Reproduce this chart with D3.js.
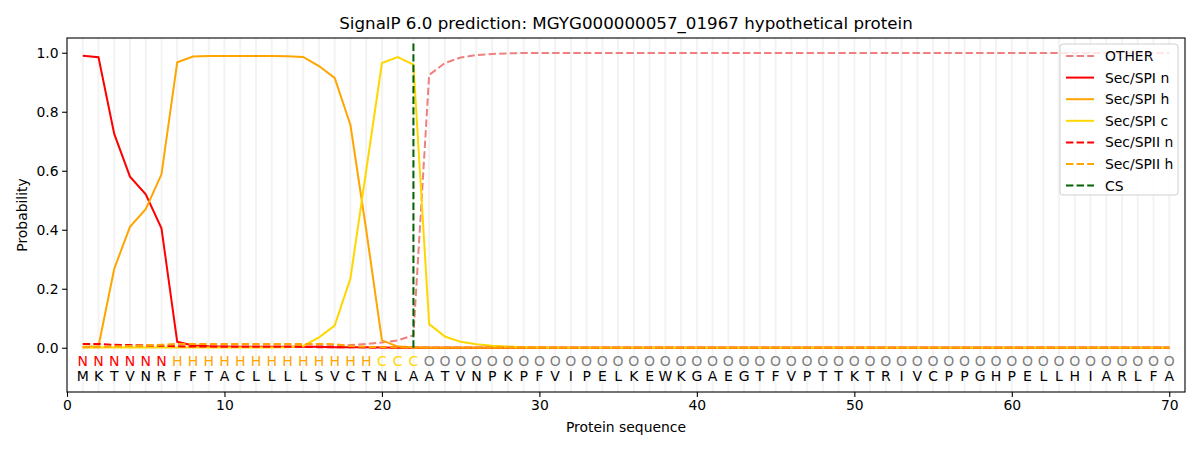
<!DOCTYPE html>
<html>
<head>
<meta charset="utf-8">
<script src="https://cdn.jsdelivr.net/npm/d3@7"></script>
<style>
  body { margin: 0; background: #fff; }
  svg { font-family: "DejaVu Sans", sans-serif; }
</style>
</head>
<body>
<div class="canvas"></div>
<script>
// Data
const sequence = 'MKTVNRFFTACLLLLSVCTNLAATVNPKPFVIPELKEWKGAEGTFVPTTKTRIVCPPGHPELLHIARLFA'.split('');
const regions = 'NNNNNNHHHHHHHHHHHHHCCCOOOOOOOOOOOOOOOOOOOOOOOOOOOOOOOOOOOOOOOOOOOOOOOO'.split('');

const other = [0.002,0.002,0.003,0.003,0.003,0.003,0.003,0.003,0.003,0.003,
    0.003,0.003,0.003,0.003,0.004,0.005,0.006,0.009,0.013,0.018,
    0.025,0.042,0.925,0.965,0.984,0.992,0.996,0.998,0.999,0.999,
    0.999,0.999,0.999,0.999,0.999,0.999,0.999,0.999,0.999,0.999,
    0.999,0.999,0.999,0.999,0.999,0.999,0.999,0.999,0.999,0.999,
    0.999,0.999,0.999,0.999,0.999,0.999,0.999,0.999,0.999,0.999,
    0.999,0.999,0.999,0.999,0.999,0.999,0.999,0.999,0.999,0.999];
const spiN = [0.99,0.985,0.725,0.58,0.52,0.405,0.02,0.008,0.005,0.004,
    0.003,0.003,0.003,0.003,0.003,0.003,0.002,0.002,0.002,0.001,
    0,0,0,0,0,0,0,0,0,0, 0,0,0,0,0,0,0,0,0,0,
    0,0,0,0,0,0,0,0,0,0, 0,0,0,0,0,0,0,0,0,0,
    0,0,0,0,0,0,0,0,0,0];
const spiH = [0.003,0.005,0.268,0.41,0.47,0.588,0.968,0.987,0.989,0.989,
    0.989,0.989,0.989,0.988,0.986,0.955,0.915,0.755,0.40,0.025,
    0.004,0.002,0,0,0,0,0,0,0,0, 0,0,0,0,0,0,0,0,0,0,
    0,0,0,0,0,0,0,0,0,0, 0,0,0,0,0,0,0,0,0,0,
    0,0,0,0,0,0,0,0,0,0];
const spiC = [0.001,0.001,0.001,0.001,0.001,0.001,0.001,0.001,0.001,0.001,
    0.001,0.001,0.001,0.002,0.006,0.035,0.075,0.235,0.60,0.965,
    0.985,0.96,0.08,0.038,0.02,0.012,0.007,0.004,0.002,0.001,
    0,0,0,0,0,0,0,0,0,0, 0,0,0,0,0,0,0,0,0,0,
    0,0,0,0,0,0,0,0,0,0, 0,0,0,0,0,0,0,0,0,0];
const spiiN = [0.013,0.013,0.01,0.009,0.008,0.007,0.005,0.004,0.004,0.003,
    0.003,0.003,0.003,0.003,0.003,0.002,0.002,0.002,0.001,0.001,
    0,0,0,0,0,0,0,0,0,0, 0,0,0,0,0,0,0,0,0,0,
    0,0,0,0,0,0,0,0,0,0, 0,0,0,0,0,0,0,0,0,0,
    0,0,0,0,0,0,0,0,0,0];
const spiiH = [0.002,0.003,0.005,0.006,0.008,0.01,0.013,0.013,0.013,0.013,
    0.013,0.013,0.013,0.013,0.013,0.013,0.012,0.006,0.003,0.002,
    0.001,0,0,0,0,0,0,0,0,0, 0,0,0,0,0,0,0,0,0,0,
    0,0,0,0,0,0,0,0,0,0, 0,0,0,0,0,0,0,0,0,0,
    0,0,0,0,0,0,0,0,0,0];
const csPos = 22;

const xTicks = [0,10,20,30,40,50,60,70];
const yTicks = [0,0.2,0.4,0.6,0.8,1.0];

const series = [
    {name:'OTHER', values:other, color:'#f08080', dash:true},
    {name:'Sec/SPI n', values:spiN, color:'#ff0000', dash:false},
    {name:'Sec/SPI h', values:spiH, color:'#ffa500', dash:false},
    {name:'Sec/SPI c', values:spiC, color:'#ffd700', dash:false},
    {name:'Sec/SPII n', values:spiiN, color:'#ff0000', dash:true},
    {name:'Sec/SPII h', values:spiiH, color:'#ffa500', dash:true}
];
const regionColor = {N:'#ff0000', H:'#ffa500', C:'#ffd700', O:'#808080'};

// Graph set up
const svgWidth = 1200;
const svgHeight = 450;
const margin = {top:38, right:15, bottom:58, left:67};
const graphWidth = svgWidth - margin.left - margin.right;
const graphHeight = svgHeight - margin.top - margin.bottom;

const svg = d3.select('.canvas')
    .append('svg')
    .attr('width',svgWidth)
    .attr('height',svgHeight);

const graph = svg.append('g')
    .attr('transform',`translate(${margin.left},${margin.top})`);

// Scales
const x = d3.scaleLinear().domain([0,71]).range([0,graphWidth]);
const y = d3.scaleLinear().domain([-0.15,1.05]).range([graphHeight,0]);

// residue grid lines
graph.selectAll('.grid')
    .data(sequence)
    .enter().append('line')
    .attr('x1',(d,i) => x(i+1))
    .attr('x2',(d,i) => x(i+1))
    .attr('y1',0)
    .attr('y2',graphHeight)
    .attr('stroke','#f3f3f3')
    .attr('stroke-width',2);

// lines
const line = d3.line()
    .x((d,i) => x(i+1))
    .y(d => y(d));

graph.selectAll('.series')
    .data(series)
    .enter().append('path')
    .attr('fill','none')
    .attr('stroke',d => d.color)
    .attr('stroke-width',2)
    .attr('stroke-dasharray',d => d.dash ? '7.4,3.2' : null)
    .attr('d',d => line(d.values));

// cleavage site
graph.append('line')
    .attr('x1',x(csPos)).attr('x2',x(csPos))
    .attr('y1',y(0)).attr('y2',y(1.04))
    .attr('stroke','#006400')
    .attr('stroke-width',2)
    .attr('stroke-dasharray','7.4,3.2');

// residue letters
graph.selectAll('.region')
    .data(regions)
    .enter().append('text')
    .attr('x',(d,i) => x(i+1))
    .attr('y',y(-0.045))
    .attr('dy','0.36em')
    .attr('text-anchor','middle')
    .attr('font-size','14px')
    .attr('fill',d => regionColor[d])
    .text(d => d);

graph.selectAll('.aa')
    .data(sequence)
    .enter().append('text')
    .attr('x',(d,i) => x(i+1))
    .attr('y',y(-0.097))
    .attr('dy','0.36em')
    .attr('text-anchor','middle')
    .attr('font-size','14px')
    .attr('fill','#000')
    .text(d => d);

// Axes
const xAxis = d3.axisBottom(x).tickValues(xTicks).tickSizeOuter(0).tickSize(4.9).tickPadding(3.5);
const yAxis = d3.axisLeft(y).tickValues(yTicks).tickSizeOuter(0).tickSize(4.9).tickPadding(3.5)
    .tickFormat(d3.format('.1f'));

const xAxisGroup = graph.append('g')
    .attr('transform',`translate(0,${graphHeight})`)
    .call(xAxis);
const yAxisGroup = graph.append('g').call(yAxis);

[xAxisGroup,yAxisGroup].forEach(g => {
    g.select('.domain').remove();
    g.selectAll('text').attr('font-size','13.9px').attr('font-family','DejaVu Sans').attr('fill','#000');
    g.selectAll('line').attr('stroke','#000').attr('stroke-width',1.1);
});

// frame
graph.append('rect')
    .attr('width',graphWidth)
    .attr('height',graphHeight)
    .attr('fill','none')
    .attr('stroke','#000')
    .attr('stroke-width',1.1);

// labels
svg.append('text')
    .attr('x',margin.left + graphWidth/2)
    .attr('y',29)
    .attr('text-anchor','middle')
    .attr('font-size','16.7px')
    .text('SignalP 6.0 prediction: MGYG000000057_01967 hypothetical protein');

svg.append('text')
    .attr('x',margin.left + graphWidth/2)
    .attr('y',432)
    .attr('text-anchor','middle')
    .attr('font-size','13.9px')
    .text('Protein sequence');

svg.append('text')
    .attr('transform',`translate(27,${y(0.45)+margin.top}) rotate(-90)`)
    .attr('text-anchor','middle')
    .attr('font-size','13.9px')
    .text('Probability');

// Legend
const legendItems = series.concat([{name:'CS', color:'#006400', dash:true}]);
const legend = svg.append('g').attr('transform','translate(1060,44)');
legend.append('rect')
    .attr('width',118)
    .attr('height',151)
    .attr('rx',3)
    .attr('fill','#fff')
    .attr('fill-opacity',0.8)
    .attr('stroke','#d0d0d0');

const items = legend.selectAll('.item')
    .data(legendItems)
    .enter().append('g')
    .attr('transform',(d,i) => `translate(0,${12 + i*21.6})`);

items.append('line')
    .attr('x1',6).attr('x2',34)
    .attr('stroke',d => d.color)
    .attr('stroke-width',2)
    .attr('stroke-dasharray',d => d.dash ? '7.4,3.2' : null);

items.append('text')
    .attr('x',45)
    .attr('dy','0.36em')
    .attr('font-size','13.9px')
    .text(d => d.name);
</script>
</body>
</html>
